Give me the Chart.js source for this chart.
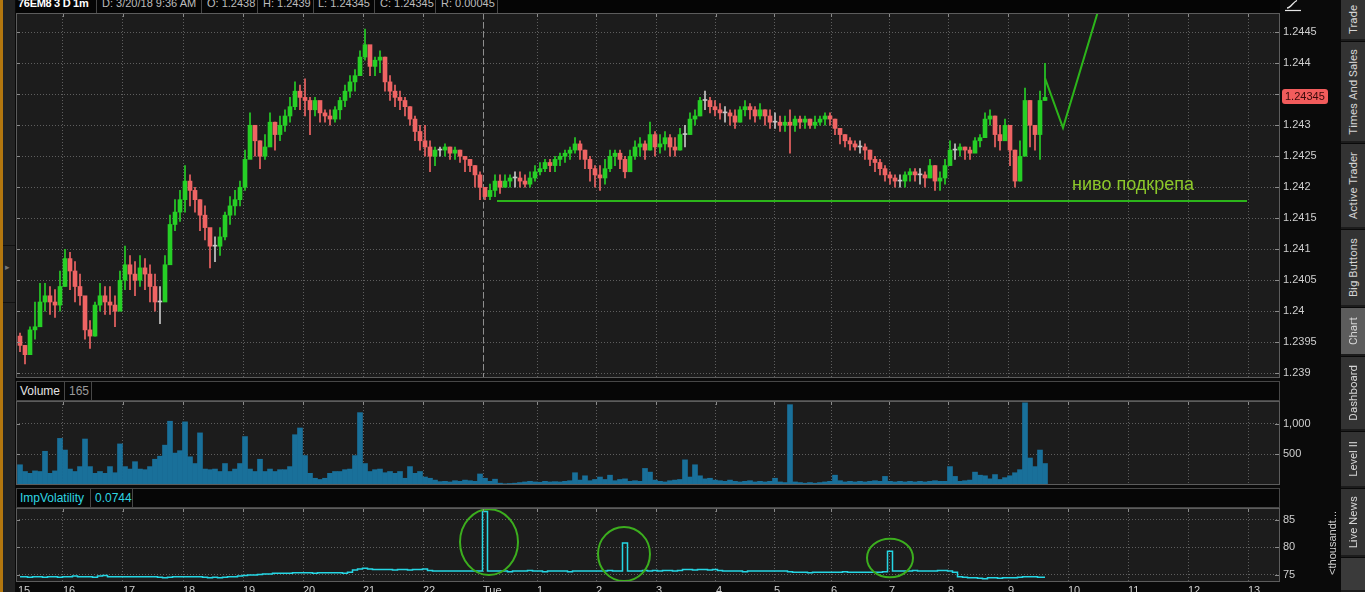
<!DOCTYPE html>
<html>
<head>
<meta charset="utf-8">
<script src="https://cdn.jsdelivr.net/npm/chart.js@4.4.1/dist/chart.umd.min.js"></script>
<style>
html,body{margin:0;padding:0;background:#0a0a0a;width:1365px;height:592px;overflow:hidden;font-family:'Liberation Sans',Arial,sans-serif;}
.abs{position:absolute;}
canvas{position:absolute;display:block;}
.hdr{position:absolute;background:#060606;box-sizing:border-box;border:1px solid #474747;}
.cell{position:absolute;top:0;height:100%;box-sizing:border-box;border-right:1px solid #474747;white-space:nowrap;overflow:hidden;}
.ht{position:absolute;top:-4px;line-height:14px;font-size:11px;color:#bdbdbd;}
.tab{position:absolute;left:1341px;width:24px;display:flex;align-items:center;justify-content:center;box-sizing:border-box;border-bottom:2px solid #1c1c1c;}
.vt{writing-mode:vertical-rl;transform:rotate(180deg);font-family:Roboto,'Liberation Sans',sans-serif;font-size:11.5px;color:#d4d4d4;white-space:nowrap;}
</style>
</head>
<body>
<!-- left strip -->
<div class="abs" style="left:0;top:0;width:3px;height:592px;background:#b3770f"></div>
<div class="abs" style="left:3px;top:0;width:12px;height:592px;background:#232323"></div>
<div class="abs" style="left:3px;top:245px;width:12px;height:1px;background:#111"></div>
<div class="abs" style="left:3px;top:302px;width:12px;height:1px;background:#111"></div>
<div class="abs" style="left:5px;top:262px;color:#777;font-size:9px;">&#9656;</div>

<!-- top header -->
<div class="abs" style="left:16px;top:0;width:1264px;height:13px;background:#050505;overflow:hidden">
  <div class="cell" style="left:0;width:81px"><span class="ht" style="left:2px;font-weight:bold;color:#fff;letter-spacing:-0.3px">76EM8 3 D 1m</span></div>
  <div class="cell" style="left:81px;width:105px"><span class="ht" style="left:5px">D: 3/20/18 9:36 AM</span></div>
  <div class="cell" style="left:186px;width:56px"><span class="ht" style="left:5px">O: 1.2438</span></div>
  <div class="cell" style="left:242px;width:56px"><span class="ht" style="left:5px">H: 1.2439</span></div>
  <div class="cell" style="left:298px;width:61px"><span class="ht" style="left:4px">L: 1.24345</span></div>
  <div class="cell" style="left:359px;width:61px"><span class="ht" style="left:5px">C: 1.24345</span></div>
  <div class="cell" style="left:420px;width:62px"><span class="ht" style="left:5px">R: 0.00045</span></div>
</div>
<svg class="abs" style="left:1284px;top:0" width="20" height="12">
  <path d="M3 8 C7 8 9 2 13 0.5" stroke="#e6e6e6" stroke-width="1.3" fill="none"/>
  <line x1="1" y1="10.5" x2="17" y2="10.5" stroke="#e6e6e6" stroke-width="1.2"/>
</svg>

<canvas id="price" width="1324" height="365" style="left:16px;top:13px"></canvas>

<!-- volume header -->
<div class="hdr" style="left:16px;top:381px;width:1264px;height:20px">
  <div class="cell" style="left:0;width:48px"><span class="abs" style="left:3px;top:2px;font-size:12px;color:#e4e4e4">Volume</span></div>
  <div class="cell" style="left:48px;width:27px"><span class="abs" style="left:4px;top:2px;font-size:12px;color:#9a9a9a">165</span></div>
</div>
<canvas id="volume" width="1324" height="84" style="left:16px;top:401px"></canvas>

<!-- impvol header -->
<div class="hdr" style="left:16px;top:488px;width:1264px;height:20px">
  <div class="cell" style="left:0;width:74px"><span class="abs" style="left:3px;top:2px;font-size:12px;color:#2fd6e2">ImpVolatility</span></div>
  <div class="cell" style="left:74px;width:42px"><span class="abs" style="left:4px;top:2px;font-size:12px;color:#2fd6e2">0.0744</span></div>
</div>
<canvas id="impvol" width="1324" height="84" style="left:16px;top:508px"></canvas>

<div class="abs" style="left:1325px;top:505px;height:76px;width:14px;display:flex;align-items:center;justify-content:center;">
  <span class="vt" style="font-family:'Liberation Sans',sans-serif;font-size:11px;color:#cfcfcf">&lt;thousandt...</span>
</div>

<div id="tabs"></div>

<script>
// ---------------- data ----------------
const hourLabels = ['15','16','17','18','19','20','21','22','Tue','1','2','3','4','5','6','7','8','9','10','11','12','13'];
const hourTickBars = [2,47,107,167,227,287,347,407,467,521,580,640,700,758,815,873,932,992,1052,1112,1172,1232];
const xMax = 1264;          // bar slots shown across the plot
const firstBar = 4;         // bar slot of first candle
const barStep = 5;          // 5-minute candles
const firstOpen = 1.23960;

const closes = [
1.23945,1.23930,1.23970,1.23975,1.24015,1.24025,1.24015,1.24010,1.24040,1.24085,
1.24065,1.24040,1.24025,1.23970,1.23960,1.24010,1.24025,1.24015,1.24010,1.24000,
1.24050,1.24075,1.24060,1.24050,1.24070,1.24060,1.24040,1.24015,1.24015,1.24075,
1.24140,1.24160,1.24180,1.24210,1.24195,1.24180,1.24155,1.24135,1.24105,1.24105,
1.24120,1.24155,1.24170,1.24180,1.24200,1.24245,1.24300,1.24275,1.24250,1.24265,
1.24305,1.24285,1.24300,1.24315,1.24330,1.24355,1.24345,1.24340,1.24325,1.24340,
1.24320,1.24315,1.24310,1.24325,1.24340,1.24355,1.24370,1.24380,1.24410,1.24430,
1.24395,1.24405,1.24410,1.24370,1.24355,1.24345,1.24340,1.24330,1.24310,1.24290,
1.24275,1.24265,1.24250,1.24260,1.24260,1.24265,1.24255,1.24260,1.24250,1.24245,
1.24235,1.24220,1.24200,1.24185,1.24195,1.24210,1.24200,1.24210,1.24215,1.24215,
1.24210,1.24205,1.24215,1.24225,1.24230,1.24240,1.24235,1.24245,1.24250,1.24255,
1.24260,1.24270,1.24260,1.24245,1.24230,1.24220,1.24215,1.24230,1.24250,1.24255,
1.24245,1.24225,1.24250,1.24265,1.24270,1.24260,1.24285,1.24265,1.24270,1.24280,
1.24265,1.24260,1.24285,1.24285,1.24310,1.24315,1.24340,1.24340,1.24330,1.24325,
1.24320,1.24320,1.24315,1.24305,1.24325,1.24330,1.24325,1.24315,1.24325,1.24315,
1.24305,1.24305,1.24300,1.24305,1.24300,1.24310,1.24305,1.24310,1.24300,1.24305,
1.24310,1.24315,1.24310,1.24295,1.24285,1.24275,1.24270,1.24265,1.24265,1.24260,
1.24245,1.24240,1.24230,1.24220,1.24215,1.24210,1.24210,1.24220,1.24225,1.24220,
1.24220,1.24215,1.24235,1.24210,1.24215,1.24235,1.24260,1.24260,1.24265,1.24260,
1.24255,1.24275,1.24280,1.24310,1.24315,1.24285,1.24275,1.24300,1.24260,1.24210,
1.24250,1.24340,1.24300,1.24285,1.24340,1.24345];

const highs = [
1.23965,1.23945,1.23975,1.24015,1.24045,1.24045,1.24040,1.24035,1.24065,1.24100,
1.24095,1.24080,1.24060,1.24015,1.23985,1.24015,1.24045,1.24040,1.24040,1.24025,
1.24065,1.24105,1.24090,1.24080,1.24090,1.24085,1.24075,1.24060,1.24040,1.24090,
1.24155,1.24180,1.24195,1.24235,1.24220,1.24200,1.24180,1.24170,1.24130,1.24120,
1.24135,1.24160,1.24185,1.24195,1.24210,1.24260,1.24320,1.24300,1.24275,1.24285,
1.24320,1.24305,1.24315,1.24325,1.24345,1.24370,1.24365,1.24375,1.24345,1.24345,
1.24330,1.24325,1.24325,1.24330,1.24345,1.24365,1.24380,1.24390,1.24420,1.24455,
1.24420,1.24410,1.24420,1.24410,1.24380,1.24365,1.24355,1.24345,1.24330,1.24315,
1.24300,1.24300,1.24275,1.24265,1.24265,1.24270,1.24265,1.24265,1.24260,1.24250,
1.24245,1.24235,1.24225,1.24200,1.24205,1.24220,1.24220,1.24220,1.24220,1.24225,
1.24225,1.24220,1.24225,1.24235,1.24240,1.24245,1.24245,1.24250,1.24255,1.24260,
1.24265,1.24280,1.24275,1.24260,1.24250,1.24235,1.24235,1.24245,1.24260,1.24260,
1.24260,1.24250,1.24260,1.24275,1.24280,1.24275,1.24305,1.24290,1.24285,1.24290,
1.24285,1.24280,1.24295,1.24300,1.24320,1.24325,1.24345,1.24355,1.24345,1.24340,
1.24335,1.24330,1.24325,1.24325,1.24330,1.24340,1.24335,1.24330,1.24335,1.24325,
1.24325,1.24320,1.24315,1.24315,1.24325,1.24315,1.24315,1.24315,1.24310,1.24315,
1.24315,1.24320,1.24320,1.24310,1.24295,1.24285,1.24280,1.24275,1.24275,1.24270,
1.24260,1.24250,1.24245,1.24235,1.24225,1.24220,1.24220,1.24225,1.24230,1.24230,
1.24230,1.24225,1.24245,1.24235,1.24225,1.24245,1.24275,1.24270,1.24270,1.24265,
1.24265,1.24280,1.24285,1.24320,1.24325,1.24315,1.24300,1.24310,1.24290,1.24260,
1.24275,1.24360,1.24340,1.24300,1.24355,1.24400];

const lows = [
1.23935,1.23915,1.23935,1.23955,1.23985,1.24000,1.23995,1.23990,1.24000,1.24040,
1.24035,1.24015,1.24010,1.23955,1.23940,1.23960,1.24000,1.23995,1.23995,1.23975,
1.24010,1.24035,1.24035,1.24025,1.24040,1.24035,1.24015,1.24000,1.23980,1.24035,
1.24080,1.24130,1.24145,1.24160,1.24170,1.24160,1.24130,1.24115,1.24070,1.24080,
1.24090,1.24115,1.24140,1.24155,1.24170,1.24195,1.24265,1.24250,1.24230,1.24245,
1.24275,1.24260,1.24275,1.24290,1.24305,1.24325,1.24325,1.24315,1.24285,1.24315,
1.24305,1.24305,1.24300,1.24305,1.24310,1.24330,1.24345,1.24355,1.24380,1.24405,
1.24380,1.24380,1.24385,1.24355,1.24340,1.24330,1.24325,1.24315,1.24300,1.24275,
1.24260,1.24250,1.24225,1.24235,1.24250,1.24250,1.24245,1.24245,1.24240,1.24225,
1.24225,1.24200,1.24180,1.24180,1.24180,1.24185,1.24190,1.24200,1.24200,1.24200,
1.24200,1.24200,1.24200,1.24210,1.24220,1.24225,1.24225,1.24225,1.24235,1.24240,
1.24245,1.24255,1.24245,1.24230,1.24210,1.24200,1.24195,1.24205,1.24225,1.24235,
1.24230,1.24215,1.24225,1.24245,1.24250,1.24245,1.24260,1.24250,1.24255,1.24260,
1.24250,1.24250,1.24260,1.24265,1.24285,1.24300,1.24315,1.24325,1.24320,1.24315,
1.24310,1.24305,1.24300,1.24295,1.24305,1.24315,1.24310,1.24305,1.24310,1.24300,
1.24295,1.24295,1.24290,1.24290,1.24255,1.24290,1.24295,1.24295,1.24295,1.24295,
1.24300,1.24300,1.24300,1.24285,1.24270,1.24265,1.24260,1.24260,1.24255,1.24245,
1.24235,1.24225,1.24220,1.24210,1.24205,1.24200,1.24200,1.24200,1.24210,1.24210,
1.24205,1.24200,1.24215,1.24195,1.24195,1.24205,1.24235,1.24245,1.24250,1.24245,
1.24245,1.24260,1.24265,1.24290,1.24300,1.24265,1.24260,1.24275,1.24235,1.24200,
1.24210,1.24290,1.24265,1.24260,1.24245,1.24340];

const volumes = [
330,220,190,230,220,550,190,230,760,570,
260,220,300,750,300,190,220,190,300,200,
670,300,260,380,260,250,300,420,470,650,
1040,520,560,1030,460,350,850,260,250,260,
220,350,220,260,350,790,260,220,420,220,
260,220,250,250,300,820,930,480,190,110,
90,110,190,220,220,250,260,480,1180,350,
220,250,260,200,220,190,220,110,300,190,
220,130,110,80,55,60,50,70,60,80,
70,60,180,110,60,95,30,20,25,30,
40,50,60,50,45,60,50,55,50,60,
70,200,80,150,70,90,130,90,160,70,
90,100,60,70,60,270,210,80,60,50,
70,80,90,410,130,330,150,100,110,80,
70,60,80,60,50,60,70,50,60,50,
60,110,50,40,1310,50,40,30,40,30,
40,50,60,160,70,50,60,50,60,50,
60,70,60,140,60,50,60,50,60,50,
60,50,60,70,60,60,300,140,60,70,
80,210,160,150,100,170,90,120,150,200,
250,1340,440,300,570,350];

const impVol = [
74.7,74.7,74.6,74.7,74.7,74.6,74.7,74.7,74.6,74.7,
74.7,74.8,74.7,74.7,74.7,74.6,74.8,74.9,74.7,74.7,
74.7,74.7,74.7,74.7,74.7,74.7,74.7,74.7,74.6,74.5,
74.6,74.7,74.7,74.7,74.7,74.7,74.7,74.6,74.5,74.6,
74.5,74.6,74.7,74.7,74.8,74.9,75.0,75.0,75.1,75.2,
75.2,75.3,75.3,75.3,75.3,75.4,75.4,75.4,75.4,75.3,
75.4,75.4,75.4,75.4,75.4,75.3,75.5,75.9,76.1,76.2,
76.1,76.0,76.0,76.0,76.0,75.9,76.0,76.0,75.9,76.0,
76.0,76.1,75.8,75.7,75.7,75.7,75.7,75.7,75.7,75.7,
75.7,75.7,75.7,86.5,75.7,75.7,75.7,75.7,75.6,75.7,
75.7,75.7,75.8,75.7,75.7,75.6,75.7,75.7,75.7,75.7,
75.6,75.7,75.7,75.7,75.7,75.7,75.7,75.7,75.8,75.7,
75.7,80.8,75.7,75.7,75.7,75.8,75.7,75.8,75.7,75.8,
75.8,75.7,75.8,76.0,76.0,75.9,76.0,76.0,75.9,76.0,
75.8,75.7,75.7,75.7,75.7,75.6,75.7,75.7,75.7,75.7,
75.7,75.7,75.7,75.7,75.6,75.5,75.5,75.5,75.4,75.5,
75.5,75.5,75.5,75.5,75.5,75.6,75.5,75.5,75.5,75.5,
75.5,75.5,75.5,75.6,79.3,75.7,75.7,75.7,75.7,75.8,
75.7,75.7,75.7,75.7,75.8,75.8,75.7,75.5,74.7,74.6,
74.5,74.5,74.4,74.3,74.5,74.5,74.4,74.5,74.5,74.5,
74.6,74.7,74.7,74.7,74.6,74.6];

const priceTicks = [1.239,1.2395,1.24,1.2405,1.241,1.2415,1.242,1.2425,1.243,1.2435,1.244,1.2445];
const volumeTicks = [500,1000];
const impVolTicks = [75,80,85];

// hand-drawn annotations (in bar slots / price units)
const supportPrice = 1.24178;
const supportBars = [481, 1231];
const forecastBars = [1029, 1047, 1085];
const forecastPrices = [1.24376, 1.24296, 1.24500];
const noteText = 'ниво подкрепа';
const noteBar = 1117;
const notePrice = 1.24196;
const circleBars = [473, 608, 874];
const circleValues = [80.95, 78.8, 78.07];
const circleRadiusBars = [29, 26, 23];
const circleRadiusValues = [5.95, 4.9, 3.5];

// ---------------- styling ----------------
const FONT = "'Liberation Sans', Arial, sans-serif";
const GRID = '#5e5e5e';
const AXIS_TXT = '#cfcfcf';
const UP = '#26cf26', DOWN = '#ef6464', DOJI = '#c8c8c8';
Chart.defaults.font.family = FONT;
Chart.defaults.font.size = 11;

const barX = closes.map((_, i) => firstBar + i * barStep);
const opens = closes.map((c, i) => (i === 0 ? firstOpen : closes[i - 1]));
const candleColors = closes.map((c, i) => (c > opens[i] ? UP : c < opens[i] ? DOWN : DOJI));

function xAxis(showLabels) {
  return {
    type: 'linear', min: 0, max: xMax, offset: false,
    afterBuildTicks: s => { s.ticks = hourTickBars.map(v => ({ value: v })); },
    afterFit: s => { s.height = showLabels ? 10 : 0; s.paddingLeft = 0; s.paddingRight = 0; },
    grid: { color: c => (c.index === 0 ? 'rgba(0,0,0,0)' : GRID), lineWidth: 1, drawTicks: false, offset: false },
    border: { display: false, dash: [1, 2] },
    ticks: {
      display: showLabels, autoSkip: false, maxRotation: 0, minRotation: 0, align: 'start',
      padding: 2, color: AXIS_TXT, font: { family: FONT, size: 11 },
      callback: (v, i) => hourLabels[i]
    }
  };
}
function yAxis(min, max, tickValues, fmt) {
  return {
    type: 'linear', position: 'right', min, max,
    afterBuildTicks: s => { s.ticks = tickValues.map(v => ({ value: v })); },
    afterFit: s => { s.width = 60; s.paddingTop = 0; s.paddingBottom = 0; },
    grid: { color: GRID, lineWidth: 1, drawTicks: false },
    border: { display: false, dash: [1, 2] },
    ticks: { color: AXIS_TXT, font: { family: FONT, size: 11 }, padding: 3, callback: v => fmt(v) }
  };
}
function baseOptions(scales) {
  return {
    responsive: false, animation: false, devicePixelRatio: 1, events: [],
    layout: { padding: 0 },
    plugins: { legend: { display: false }, tooltip: { enabled: false } },
    scales
  };
}

const panelPlugin = {
  id: 'panel',
  beforeDraw(chart) {
    const { ctx, chartArea: a, width, height } = chart;
    ctx.save();
    ctx.fillStyle = '#0a0a0a';
    ctx.fillRect(0, 0, width, height);
    ctx.fillStyle = '#1c1c1c';
    ctx.fillRect(a.left, a.top, a.right - a.left, a.bottom - a.top);
    ctx.restore();
  },
  afterDraw(chart) {
    const { ctx, chartArea: a, scales } = chart;
    ctx.save();
    ctx.strokeStyle = '#8a8a8a';
    ctx.lineWidth = 1;
    ctx.beginPath();
    scales.x.ticks.forEach((t, i) => {
      if (i === 0) return;
      const x = Math.round(scales.x.getPixelForValue(t.value)) + 0.5;
      ctx.moveTo(x, a.top); ctx.lineTo(x, a.top + 4);
    });
    scales.y.ticks.forEach(t => {
      const y = Math.round(scales.y.getPixelForValue(t.value)) + 0.5;
      ctx.moveTo(a.left, y); ctx.lineTo(a.left + 4, y);
      ctx.moveTo(a.right - 5, y); ctx.lineTo(a.right, y);
    });
    ctx.stroke();
    ctx.strokeStyle = '#5c5c5c';
    ctx.strokeRect(a.left + 0.5, a.top + 0.5, a.right - a.left - 1, a.bottom - a.top - 1);
    ctx.restore();
  }
};

const sessionPlugin = {
  id: 'session',
  beforeDatasetsDraw(chart) {
    const { ctx, chartArea: a, scales: { x } } = chart;
    const px = Math.round(x.getPixelForValue(hourTickBars[hourLabels.indexOf('Tue')])) + 0.5;
    ctx.save();
    ctx.strokeStyle = '#8e8e8e';
    ctx.lineWidth = 1;
    ctx.setLineDash([6, 3]);
    ctx.beginPath();
    ctx.moveTo(px, a.top); ctx.lineTo(px, a.bottom);
    ctx.stroke();
    ctx.restore();
  }
};

const notePlugin = {
  id: 'note',
  afterDatasetsDraw(chart) {
    const { ctx, scales: { x, y } } = chart;
    ctx.save();
    ctx.font = "18px " + FONT;
    ctx.fillStyle = '#8cc82a';
    ctx.textAlign = 'center';
    ctx.textBaseline = 'alphabetic';
    ctx.fillText(noteText, x.getPixelForValue(noteBar), y.getPixelForValue(notePrice));
    ctx.restore();
  },
  afterDraw(chart) {
    const { ctx, chartArea: a, scales: { y } } = chart;
    const last = closes[closes.length - 1];
    const py = Math.round(y.getPixelForValue(last));
    const bx = a.right + 2, bw = 46, bh = 15, by = py - 8;
    ctx.save();
    ctx.fillStyle = '#f25c5c';
    ctx.beginPath();
    ctx.roundRect(bx, by, bw, bh, 3);
    ctx.fill();
    ctx.fillStyle = '#3a0a0a';
    ctx.font = "11px " + FONT;
    ctx.textBaseline = 'middle';
    ctx.textAlign = 'left';
    ctx.fillText(last.toFixed(5), bx + 3, by + bh / 2 + 0.5);
    ctx.restore();
  }
};

const circlePlugin = {
  id: 'circles',
  afterDatasetsDraw(chart) {
    const { ctx, scales: { x, y } } = chart;
    ctx.save();
    ctx.strokeStyle = '#3cae1e';
    ctx.lineWidth = 2;
    circleBars.forEach((b, i) => {
      const cx = x.getPixelForValue(b);
      const cy = y.getPixelForValue(circleValues[i]);
      const rx = Math.abs(x.getPixelForValue(b + circleRadiusBars[i]) - cx);
      const ry = Math.abs(y.getPixelForValue(circleValues[i] + circleRadiusValues[i]) - cy);
      ctx.beginPath();
      ctx.ellipse(cx, cy, rx, ry, 0, 0, Math.PI * 2);
      ctx.stroke();
    });
    ctx.restore();
  }
};

// ---------------- price panel ----------------
new Chart(document.getElementById('price'), {
  type: 'bar',
  data: {
    datasets: [
      {
        type: 'line', order: 0,
        data: supportBars.map(b => ({ x: b, y: supportPrice })),
        borderColor: '#2cb51a', borderWidth: 2, pointRadius: 0
      },
      {
        type: 'line', order: 0,
        data: forecastBars.map((b, i) => ({ x: b, y: forecastPrices[i] })),
        borderColor: '#2cb51a', borderWidth: 2, pointRadius: 0
      },
      {
        type: 'bar', order: 2, grouped: false,
        data: barX.map((b, i) => ({ x: b, y: [lows[i], highs[i]] })),
        backgroundColor: candleColors, barThickness: 1, borderWidth: 0, borderSkipped: false
      },
      {
        type: 'bar', order: 1, grouped: false,
        data: barX.map((b, i) => ({ x: b, y: [opens[i], closes[i]] })),
        backgroundColor: candleColors, barThickness: 4, minBarLength: 1, borderWidth: 0, borderSkipped: false
      }
    ]
  },
  options: baseOptions({
    x: xAxis(false),
    y: yAxis(1.238924, 1.244811, priceTicks, v => String(parseFloat(v.toFixed(4))))
  }),
  plugins: [panelPlugin, sessionPlugin, notePlugin]
});

// ---------------- volume panel ----------------
new Chart(document.getElementById('volume'), {
  type: 'bar',
  data: {
    datasets: [{
      data: barX.map((b, i) => ({ x: b, y: volumes[i] })),
      backgroundColor: '#19709a', barThickness: 5, borderWidth: 0
    }]
  },
  options: baseOptions({
    x: xAxis(false),
    y: yAxis(0, 1370, volumeTicks, v => v.toLocaleString('en-US'))
  }),
  plugins: [panelPlugin]
});

// ---------------- implied volatility panel ----------------
new Chart(document.getElementById('impvol'), {
  type: 'line',
  data: {
    datasets: [{
      data: barX.map((b, i) => ({ x: b, y: impVol[i] })),
      borderColor: '#25d6e4', borderWidth: 1.5, pointRadius: 0, stepped: 'middle'
    }]
  },
  options: baseOptions({
    x: xAxis(true),
    y: yAxis(73.73, 87.12, impVolTicks, v => String(v))
  }),
  plugins: [panelPlugin, circlePlugin]
});

// ---------------- side tabs ----------------
const tabNames = ['Trade','Times And Sales','Active Trader','Big Buttons','Chart','Dashboard','Level II','Live News',''];
const tabTops = [0,42,144,230,308,357,432,489,558];
const tabHeights = [41,101,85,77,48,74,56,68,34];
const tabsEl = document.getElementById('tabs');
tabNames.forEach((n, i) => {
  const d = document.createElement('div');
  d.className = 'tab';
  d.style.top = tabTops[i] + 'px';
  d.style.height = tabHeights[i] + 'px';
  d.style.background = n === 'Chart' ? '#5c5c5c' : (n === '' ? '#3a3a3a' : '#333333');
  if (n) {
    const s = document.createElement('span');
    s.className = 'vt';
    s.textContent = n;
    d.appendChild(s);
  }
  tabsEl.appendChild(d);
});
</script>
</body>
</html>
